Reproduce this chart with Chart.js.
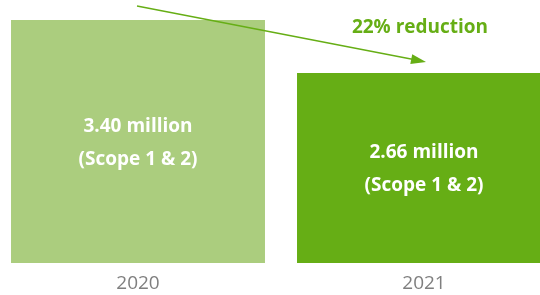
<!DOCTYPE html>
<html>
<head>
<meta charset="utf-8">
<script src="https://cdn.jsdelivr.net/npm/chart.js@4"></script>
<style>
  html, body { margin: 0; padding: 0; background: #fff; overflow: hidden; }
  #wrap { position: relative; width: 572px; height: 295px; margin-left: -5px; }
</style>
</head>
<body>
<div id="wrap"><canvas id="chart" width="572" height="295"></canvas></div>
<script>
// === DATA ===
const years = ["2020", "2021"];
const emissions = [3.40, 2.66];          // million tonnes, Scope 1 & 2
const valueLabels = ["3.40 million", "2.66 million"];
const scopeLabel = "(Scope 1 & 2)";
const reductionLabel = "22% reduction";

const barColors = ["#abcd7e", "#66ae15"];
const green = "#66ae15";
const fontFamily = "'Open Sans', 'Noto Sans', sans-serif";

// labels inside the bars + the arrow / reduction note
const annotate = {
    id: "annotate",
    afterDatasetsDraw(chart) {
        const ctx = chart.ctx;
        const bars = chart.getDatasetMeta(0).data;
        const area = chart.chartArea;

        ctx.save();
        ctx.fillStyle = "#fff";
        ctx.font = "bold 19px " + fontFamily;
        ctx.textAlign = "center";
        ctx.textBaseline = "middle";
        bars.forEach((bar, i) => {
            const mid = (bar.y + bar.base) / 2;
            ctx.fillText(valueLabels[i], bar.x, mid - 15);
            ctx.fillText(scopeLabel, bar.x, mid + 18);
        });

        // arrow from above bar 1 to above bar 2
        const x1 = bars[0].x - 1, y1 = area.top - 14;
        const x2 = bars[1].x + 2, y2 = bars[1].y - 11;
        const ang = Math.atan2(y2 - y1, x2 - x1);
        ctx.strokeStyle = green;
        ctx.lineWidth = 1.3;
        ctx.beginPath();
        ctx.moveTo(x1, y1);
        ctx.lineTo(x2 - 10 * Math.cos(ang), y2 - 10 * Math.sin(ang));
        ctx.stroke();
        ctx.fillStyle = green;
        ctx.beginPath();
        ctx.moveTo(x2, y2);
        ctx.lineTo(x2 - 15 * Math.cos(ang) + 5 * Math.sin(ang), y2 - 15 * Math.sin(ang) - 5 * Math.cos(ang));
        ctx.lineTo(x2 - 15 * Math.cos(ang) - 5 * Math.sin(ang), y2 - 15 * Math.sin(ang) + 5 * Math.cos(ang));
        ctx.closePath();
        ctx.fill();

        ctx.font = "bold 19px " + fontFamily;
        ctx.fillText(reductionLabel, bars[1].x - 4, bars[1].y - 45);
        ctx.restore();
    }
};

new Chart(document.getElementById("chart").getContext("2d"), {
    type: "bar",
    data: {
        labels: years,
        datasets: [{
            data: emissions,
            backgroundColor: barColors,
            borderWidth: 0,
            barPercentage: 0.888,
            categoryPercentage: 1
        }]
    },
    options: {
        responsive: false,
        animation: false,
        layout: { padding: { top: 20, bottom: 0, left: 0, right: 0 } },
        plugins: {
            legend: { display: false },
            tooltip: { enabled: false }
        },
        scales: {
            x: {
                grid: { display: false, drawTicks: false },
                border: { display: false },
                ticks: {
                    color: "#7f7f7f",
                    padding: 9,
                    maxRotation: 0,
                    font: { family: fontFamily, size: 19 }
                },
                afterFit(scale) { scale.height = 32; }
            },
            y: {
                display: false,
                min: 0,
                max: 3.40
            }
        }
    },
    plugins: [annotate]
});
</script>
</body>
</html>
